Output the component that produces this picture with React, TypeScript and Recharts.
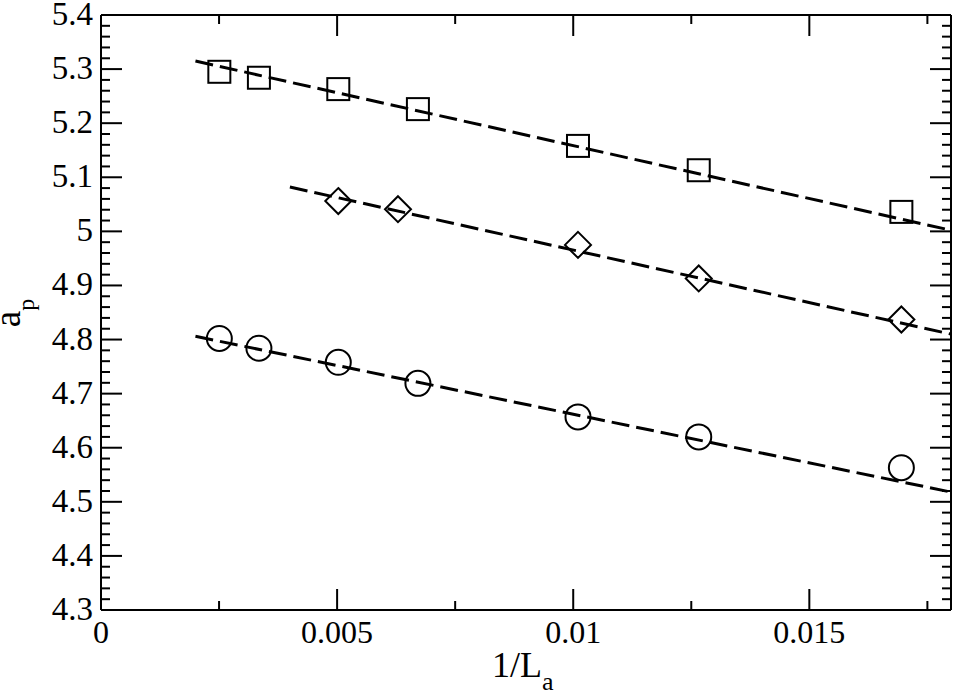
import React from "react";
import { ComposedChart, Scatter, XAxis, YAxis } from "recharts";

// 1/L_a positions of the measured points
const xSquare = [0.002506, 0.003344, 0.005025, 0.006711, 0.010101, 0.012658, 0.016949];
const xDiamond = [0.005025, 0.006289, 0.010101, 0.012658, 0.016949];
const xCircle = [0.002506, 0.003344, 0.005025, 0.006711, 0.010101, 0.012658, 0.016949];

// a_p values
const ySquare = [5.295, 5.284, 5.263, 5.226, 5.158, 5.113, 5.036];
const yDiamond = [5.056, 5.041, 4.975, 4.913, 4.837];
const yCircle = [4.802, 4.784, 4.758, 4.719, 4.657, 4.62, 4.563];

// dashed linear fits: [x, y] end points
const fitSquare = [[0.002, 5.315], [0.018, 5.002]];
const fitDiamond = [[0.004, 5.082], [0.018, 4.81]];
const fitCircle = [[0.002, 4.806], [0.018, 4.518]];

// axis ticks
const xMajor = [0, 0.005, 0.01, 0.015];
const xMinor = [0.0025, 0.0075, 0.0125, 0.0175];
const yMajor = [4.3, 4.4, 4.5, 4.6, 4.7, 4.8, 4.9, 5.0, 5.1, 5.2, 5.3, 5.4];

const yMinor: number[] = [];
for (let i = 0; i < yMajor.length - 1; i++) {
  for (let k = 1; k < 5; k++) yMinor.push(Number((yMajor[i] + k * 0.02).toFixed(2)));
}

const xTicks = [...xMajor, ...xMinor].sort((a, b) => a - b);
const yTicks = [...yMajor, ...yMinor].sort((a, b) => a - b);

const toPoints = (xs: number[], ys: number[]) => xs.map((x, i) => ({ x, y: ys[i] }));
const fitPoints = (f: number[][]) => f.map(([x, y]) => ({ x, y }));

const FONT = "'Liberation Serif', 'Times New Roman', serif";
const MAJOR = 21;
const MINOR = 9;

const isMajor = (v: number, list: number[]) => list.some((m) => Math.abs(m - v) < 1e-9);
const fmt = (v: number) => String(Number(v.toFixed(4)));

const BottomTick = (props: any) => {
  const { x, y, payload } = props;
  const major = isMajor(payload.value, xMajor);
  return (
    <g>
      <line x1={x} y1={y} x2={x} y2={y - (major ? MAJOR : MINOR)} stroke="#000" strokeWidth={2} />
      {major && (
        <text x={x} y={y + 33} textAnchor="middle" fontSize={32} fontFamily={FONT} fill="#000">
          {fmt(payload.value)}
        </text>
      )}
    </g>
  );
};

const TopTick = (props: any) => {
  const { x, y, payload } = props;
  const major = isMajor(payload.value, xMajor);
  return <line x1={x} y1={y} x2={x} y2={y + (major ? MAJOR : MINOR)} stroke="#000" strokeWidth={2} />;
};

const LeftTick = (props: any) => {
  const { x, y, payload } = props;
  const major = isMajor(payload.value, yMajor);
  return (
    <g>
      <line x1={x} y1={y} x2={x + (major ? MAJOR : MINOR)} y2={y} stroke="#000" strokeWidth={2} />
      {major && (
        <text x={x - 8} y={y + 10} textAnchor="end" fontSize={33} fontFamily={FONT} fill="#000">
          {fmt(payload.value)}
        </text>
      )}
    </g>
  );
};

const RightTick = (props: any) => {
  const { x, y, payload } = props;
  const major = isMajor(payload.value, yMajor);
  return <line x1={x} y1={y} x2={x - (major ? MAJOR : MINOR)} y2={y} stroke="#000" strokeWidth={2} />;
};

const square = (props: any) => {
  const { cx, cy } = props;
  return <rect x={cx - 11} y={cy - 11} width={22} height={22} fill="none" stroke="#000" strokeWidth={2} />;
};

const diamond = (props: any) => {
  const { cx, cy } = props;
  const r = 13;
  return (
    <polygon
      points={`${cx},${cy - r} ${cx + r},${cy} ${cx},${cy + r} ${cx - r},${cy}`}
      fill="none"
      stroke="#000"
      strokeWidth={2}
    />
  );
};

const circle = (props: any) => {
  const { cx, cy } = props;
  return <circle cx={cx} cy={cy} r={12.5} fill="none" stroke="#000" strokeWidth={2} />;
};

const noShape = () => <g />;

const dashLine = { stroke: "#000", strokeWidth: 3, strokeDasharray: "18 7" };

const xLabel = () => (
  <text x={492} y={677} textAnchor="start" fontSize={36} fontFamily={FONT} fill="#000">
    1/L
    <tspan dy={13} fontSize={26}>a</tspan>
  </text>
);

const yLabel = () => (
  <text
    x={20}
    y={313}
    textAnchor="middle"
    fontSize={37}
    fontFamily={FONT}
    fill="#000"
    transform="rotate(-90, 20, 313)"
  >
    a
    <tspan dy={14} fontSize={24}>p</tspan>
  </text>
);

export default function App() {
  return (
    <div style={{ position: "absolute", left: 0, top: 0, background: "#fff" }}>
      <ComposedChart width={954} height={696} margin={{ top: 0, right: 0, bottom: 0, left: 0 }}>
        <XAxis
          dataKey="x"
          type="number"
          domain={[0, 0.018]}
          allowDataOverflow
          ticks={xTicks}
          interval={0}
          tickSize={0}
          tickMargin={0}
          tick={BottomTick}
          axisLine={{ stroke: "#000", strokeWidth: 2 }}
          height={86}
          label={xLabel}
        />
        <XAxis
          xAxisId="top"
          orientation="top"
          dataKey="x"
          type="number"
          domain={[0, 0.018]}
          allowDataOverflow
          ticks={xTicks}
          interval={0}
          tickSize={0}
          tickMargin={0}
          tick={TopTick}
          axisLine={{ stroke: "#000", strokeWidth: 2 }}
          height={15}
        />
        <YAxis
          dataKey="y"
          type="number"
          domain={[4.3, 5.4]}
          allowDataOverflow
          ticks={yTicks}
          interval={0}
          tickSize={0}
          tickMargin={0}
          tick={LeftTick}
          axisLine={{ stroke: "#000", strokeWidth: 2 }}
          width={101}
          label={yLabel}
        />
        <YAxis
          yAxisId="right"
          orientation="right"
          dataKey="y"
          type="number"
          domain={[4.3, 5.4]}
          allowDataOverflow
          ticks={yTicks}
          interval={0}
          tickSize={0}
          tickMargin={0}
          tick={RightTick}
          axisLine={{ stroke: "#000", strokeWidth: 2 }}
          width={3}
        />

        <Scatter data={fitPoints(fitSquare)} line={dashLine} lineType="joint" shape={noShape} isAnimationActive={false} />
        <Scatter data={fitPoints(fitDiamond)} line={dashLine} lineType="joint" shape={noShape} isAnimationActive={false} />
        <Scatter data={fitPoints(fitCircle)} line={dashLine} lineType="joint" shape={noShape} isAnimationActive={false} />

        <Scatter data={toPoints(xSquare, ySquare)} shape={square} isAnimationActive={false} />
        <Scatter data={toPoints(xDiamond, yDiamond)} shape={diamond} isAnimationActive={false} />
        <Scatter data={toPoints(xCircle, yCircle)} shape={circle} isAnimationActive={false} />

        <Scatter xAxisId="top" yAxisId="right" data={[]} shape={noShape} isAnimationActive={false} />
      </ComposedChart>
    </div>
  );
}
